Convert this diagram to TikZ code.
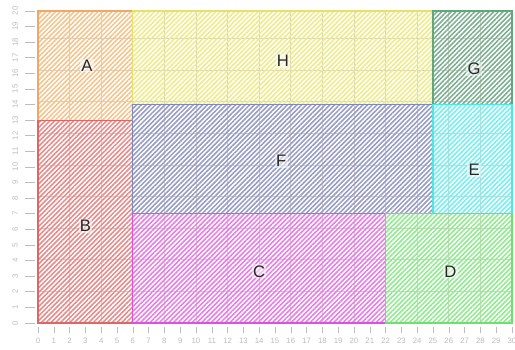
\documentclass[tikz,border=0pt]{standalone}
\usepackage{fontspec}
\setmainfont{Liberation Sans}
\usetikzlibrary{patterns.meta}
\definecolor{bA}{HTML}{F0A868}\definecolor{hA}{HTML}{F5C48C}
\definecolor{bB}{HTML}{E06666}\definecolor{hB}{HTML}{E68A8A}
\definecolor{bH}{HTML}{E6E070}\definecolor{hH}{HTML}{EEEC88}
\definecolor{bG}{HTML}{5FA87A}\definecolor{hG}{HTML}{7CAE90}
\definecolor{bF}{HTML}{8088B8}\definecolor{hF}{HTML}{969CC4}
\definecolor{bE}{HTML}{50E6E6}\definecolor{hE}{HTML}{74F0F0}
\definecolor{bC}{HTML}{E050E0}\definecolor{hC}{HTML}{E67EE6}
\definecolor{bD}{HTML}{6EE06E}\definecolor{hD}{HTML}{90EA90}
\definecolor{gridc}{HTML}{D8D2CC}
\definecolor{tickc}{HTML}{BDBDBD}
\tikzset{
  regionlabel/.style={font=\fontsize{15}{17}\selectfont, text=black!85, inner sep=1pt, fill=white, fill opacity=0.5, text opacity=1},
  ticklabel/.style={font=\fontsize{7}{8}\selectfont, text=tickc, inner sep=0pt},
  tickline/.style={draw=tickc, line width=0.5pt},
}
\begin{document}
\begin{tikzpicture}[x=0.5cm,y=0.4937cm]
\useasboundingbox (-2.405,-1.73) rectangle (30.19,20.7);
\fill[white] (-2.405,-1.73) rectangle (30.19,20.7);
\draw[gridc, line width=0.6pt] (0,0) grid (30,20);
\foreach \xa/\ya/\xb/\yb/\c in {0/13/6/20/A, 0/0/6/13/B, 6/14/25/20/H, 25/14/30/20/G, 6/7/25/14/F, 25/7/30/14/E, 6/0/22/7/C, 22/0/30/7/D}{
  \pattern[pattern={Lines[angle=45,distance=3pt,line width=1.4pt]}, pattern color=h\c] (\xa,\ya) rectangle (\xb,\yb);
}
\foreach \xa/\ya/\xb/\yb/\c in {0/13/6/20/A, 0/0/6/13/B, 6/14/25/20/H, 25/14/30/20/G, 6/7/25/14/F, 25/7/30/14/E, 6/0/22/7/C, 22/0/30/7/D}{
  \draw[b\c, line width=1.1pt] (\xa,\ya) rectangle (\xb,\yb);
}
\node[regionlabel] (lA) at (3.1,16.5) {A};
\node[regionlabel] (lB) at (3,6.2) {B};
\node[regionlabel] (lH) at (15.5,16.8) {H};
\node[regionlabel] (lG) at (27.6,16.3) {G};
\node[regionlabel] (lF) at (15.4,10.4) {F};
\node[regionlabel] (lE) at (27.6,9.8) {E};
\node[regionlabel] (lC) at (14,3.3) {C};
\node[regionlabel] (lD) at (26.1,3.3) {D};
\foreach \i in {0,...,30}{
  \draw[tickline] (\i,-0.26) -- (\i,-0.64);
  \node[ticklabel] (xl\i) at (\i,-1.15) {\i};
}
\foreach \i in {0,...,20}{
  \draw[tickline] (-0.82,\i) -- (-0.19,\i);
  \node[ticklabel, rotate=90] (yl\i) at (-1.45,\i) {\i};
}
\end{tikzpicture}
\end{document}
